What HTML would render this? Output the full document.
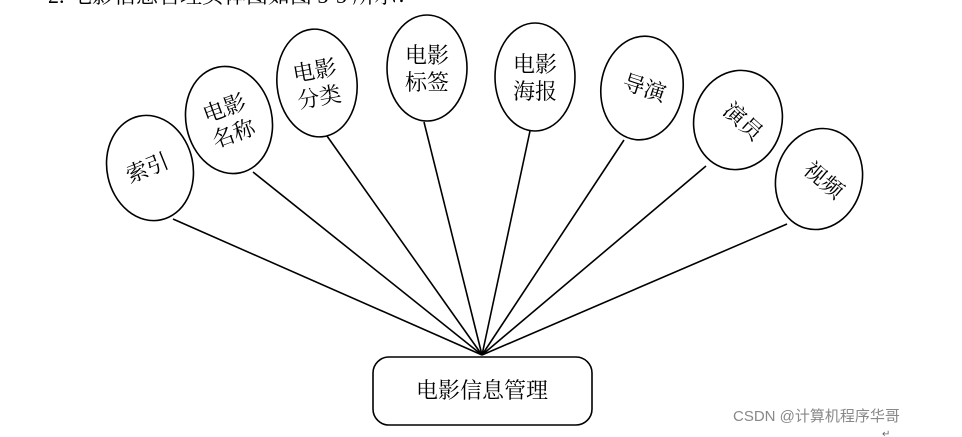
<!DOCTYPE html>
<html><head><meta charset="utf-8"><style>
html,body{margin:0;padding:0;background:#fff;width:962px;height:437px;overflow:hidden}
svg text{font-family:"Liberation Serif","Noto Serif CJK SC","Noto Sans CJK SC",serif;fill:#000}
</style></head><body>
<svg width="962" height="437" viewBox="0 0 962 437" xmlns="http://www.w3.org/2000/svg">
<text x="48" y="3" font-size="22">2.  电影信息管理实体图如图 3-5 所示：</text>
<g stroke="#000" stroke-width="1.6" fill="none">
<line x1="173" y1="219" x2="482" y2="355"/>
<line x1="253" y1="172" x2="482" y2="355"/>
<line x1="327" y1="136" x2="482" y2="355"/>
<line x1="424" y1="122" x2="482" y2="355"/>
<line x1="530" y1="131" x2="482" y2="355"/>
<line x1="624" y1="140" x2="482" y2="355"/>
<line x1="706" y1="166" x2="482" y2="355"/>
<line x1="787" y1="224" x2="482" y2="355"/>
</g>
<g stroke="#000" stroke-width="1.6" fill="#fff">
<ellipse cx="150" cy="168" rx="43" ry="53" transform="rotate(-12 150 168)"/>
<ellipse cx="229" cy="120" rx="43" ry="54" transform="rotate(-12 229 120)"/>
<ellipse cx="317" cy="83" rx="40" ry="54" transform="rotate(-6 317 83)"/>
<ellipse cx="427" cy="68" rx="40" ry="53"/>
<ellipse cx="535" cy="77" rx="40" ry="54"/>
<ellipse cx="642" cy="88" rx="41" ry="52" transform="rotate(8 642 88)"/>
<ellipse cx="738" cy="120" rx="44" ry="50" transform="rotate(15 738 120)"/>
<ellipse cx="819" cy="179" rx="43" ry="51" transform="rotate(15 819 179)"/>
<rect x="373" y="357" width="219" height="68" rx="16" ry="16"/>
</g>
<g font-size="22" text-anchor="middle">
<text transform="translate(150,175) rotate(-22)">索引</text>
<text transform="translate(229,121) rotate(-20)"><tspan x="0" y="-6">电影</tspan><tspan x="0" y="21">名称</tspan></text>
<text transform="translate(317,84) rotate(-10)"><tspan x="0" y="-6">电影</tspan><tspan x="0" y="21">分类</tspan></text>
<text transform="translate(427,68)"><tspan x="0" y="-5">电影</tspan><tspan x="0" y="22">标签</tspan></text>
<text transform="translate(535,77)"><tspan x="0" y="-5">电影</tspan><tspan x="0" y="22">海报</tspan></text>
<text transform="translate(642,95) rotate(18)">导演</text>
<text transform="translate(738,127) rotate(42)">演员</text>
<text transform="translate(819,186) rotate(40)">视频</text>
<text x="482" y="398" font-size="22">电影信息管理</text>
</g>
<text x="733" y="421" font-size="15" style="font-family:'Liberation Sans','Noto Sans CJK SC',sans-serif;fill:#888">CSDN @计算机程序华哥</text>
<text x="882" y="437" font-size="10" style="fill:#666">↵</text>
</svg>
</body></html>
